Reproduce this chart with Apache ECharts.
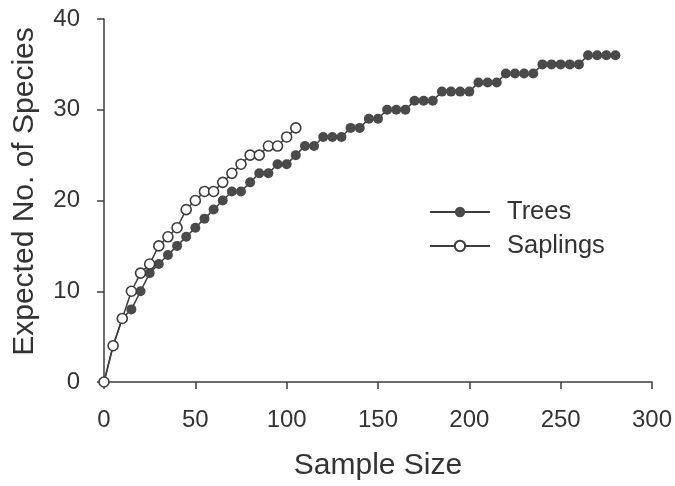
<!DOCTYPE html>
<html>
<head>
<meta charset="utf-8">
<script src="https://cdn.jsdelivr.net/npm/echarts@6/dist/echarts.min.js"></script>
<style>
html,body{margin:0;padding:0;background:#fff;}
#chart{width:675px;height:486px;}
</style>
</head>
<body>
<div id="chart"></div>
<script>
// Sample sizes and expected species
var treeSizes = [0,5,10,15,20,25,30,35,40,45,50,55,60,65,70,75,80,85,90,95,100,105,110,115,120,125,130,135,140,145,150,155,160,165,170,175,180,185,190,195,200,205,210,215,220,225,230,235,240,245,250,255,260,265,270,275,280];
var treeSpecies = [0,4,7,8,10,12,13,14,15,16,17,18,19,20,21,21,22,23,23,24,24,25,26,26,27,27,27,28,28,29,29,30,30,30,31,31,31,32,32,32,32,33,33,33,34,34,34,34,35,35,35,35,35,36,36,36,36];
var saplingSizes = [0,5,10,15,20,25,30,35,40,45,50,55,60,65,70,75,80,85,90,95,100,105];
var saplingSpecies = [0,4,7,10,12,13,15,16,17,19,20,21,21,22,23,24,25,25,26,26,27,28];
var xTicks = [0,50,100,150,200,250,300];
var yTicks = [0,10,20,30,40];
var seriesNames = ['Trees','Saplings'];

function pairs(xs, ys){ return xs.map(function(x,i){ return [x, ys[i]]; }); }

var ink = '#3c3c3c';
var font = 'Liberation Sans, Arial, sans-serif';
var chart = echarts.init(document.getElementById('chart'), null, {renderer:'canvas'});
chart.setOption({
  animation:false,
  backgroundColor:'#ffffff',
  grid:{left:104, top:19, right:23, bottom:101, containLabel:false},
  legend:{
    orient:'vertical', left:429, top:199, padding:0, itemWidth:60, itemHeight:13, itemGap:8,
    textStyle:{fontFamily:font, fontSize:25.5, color:'#333', padding:[0,0,0,12]},
    data:[{name:seriesNames[0]},{name:seriesNames[1]}]
  },
  xAxis:{
    type:'value', min:xTicks[0], max:xTicks[xTicks.length-1], interval:50,
    name:'Sample Size', nameLocation:'middle', nameGap:69,
    nameTextStyle:{fontFamily:font, fontSize:30, color:'#333'},
    axisLine:{show:true, lineStyle:{color:ink, width:1.5}},
    axisTick:{show:true, inside:false, length:7, lineStyle:{color:ink, width:1.5}},
    axisLabel:{fontFamily:font, fontSize:24, color:'#333', margin:26},
    splitLine:{show:false}
  },
  yAxis:{
    type:'value', min:yTicks[0], max:yTicks[yTicks.length-1], interval:10,
    name:'Expected No. of Species', nameLocation:'middle', nameGap:64,
    nameTextStyle:{fontFamily:font, fontSize:30, color:'#333', padding:[0,0,0,18]},
    axisLine:{show:true, lineStyle:{color:ink, width:1.5}},
    axisTick:{show:true, inside:false, length:7, lineStyle:{color:ink, width:1.5}},
    axisLabel:{fontFamily:font, fontSize:24, color:'#333', margin:24},
    splitLine:{show:false}
  },
  series:[
    {
      name:seriesNames[0], type:'line', data:pairs(treeSizes, treeSpecies),
      symbol:'circle', symbolSize:10, showAllSymbol:true,
      lineStyle:{color:ink, width:1.5},
      itemStyle:{color:'#4a4a4a', borderColor:'#4a4a4a', borderWidth:0},
      z:2
    },
    {
      name:seriesNames[1], type:'line', data:pairs(saplingSizes, saplingSpecies),
      symbol:'circle', symbolSize:10, showAllSymbol:true,
      lineStyle:{color:ink, width:1.5},
      itemStyle:{color:'#ffffff', borderColor:ink, borderWidth:1.6},
      z:3
    }
  ]
});
</script>
</body>
</html>
